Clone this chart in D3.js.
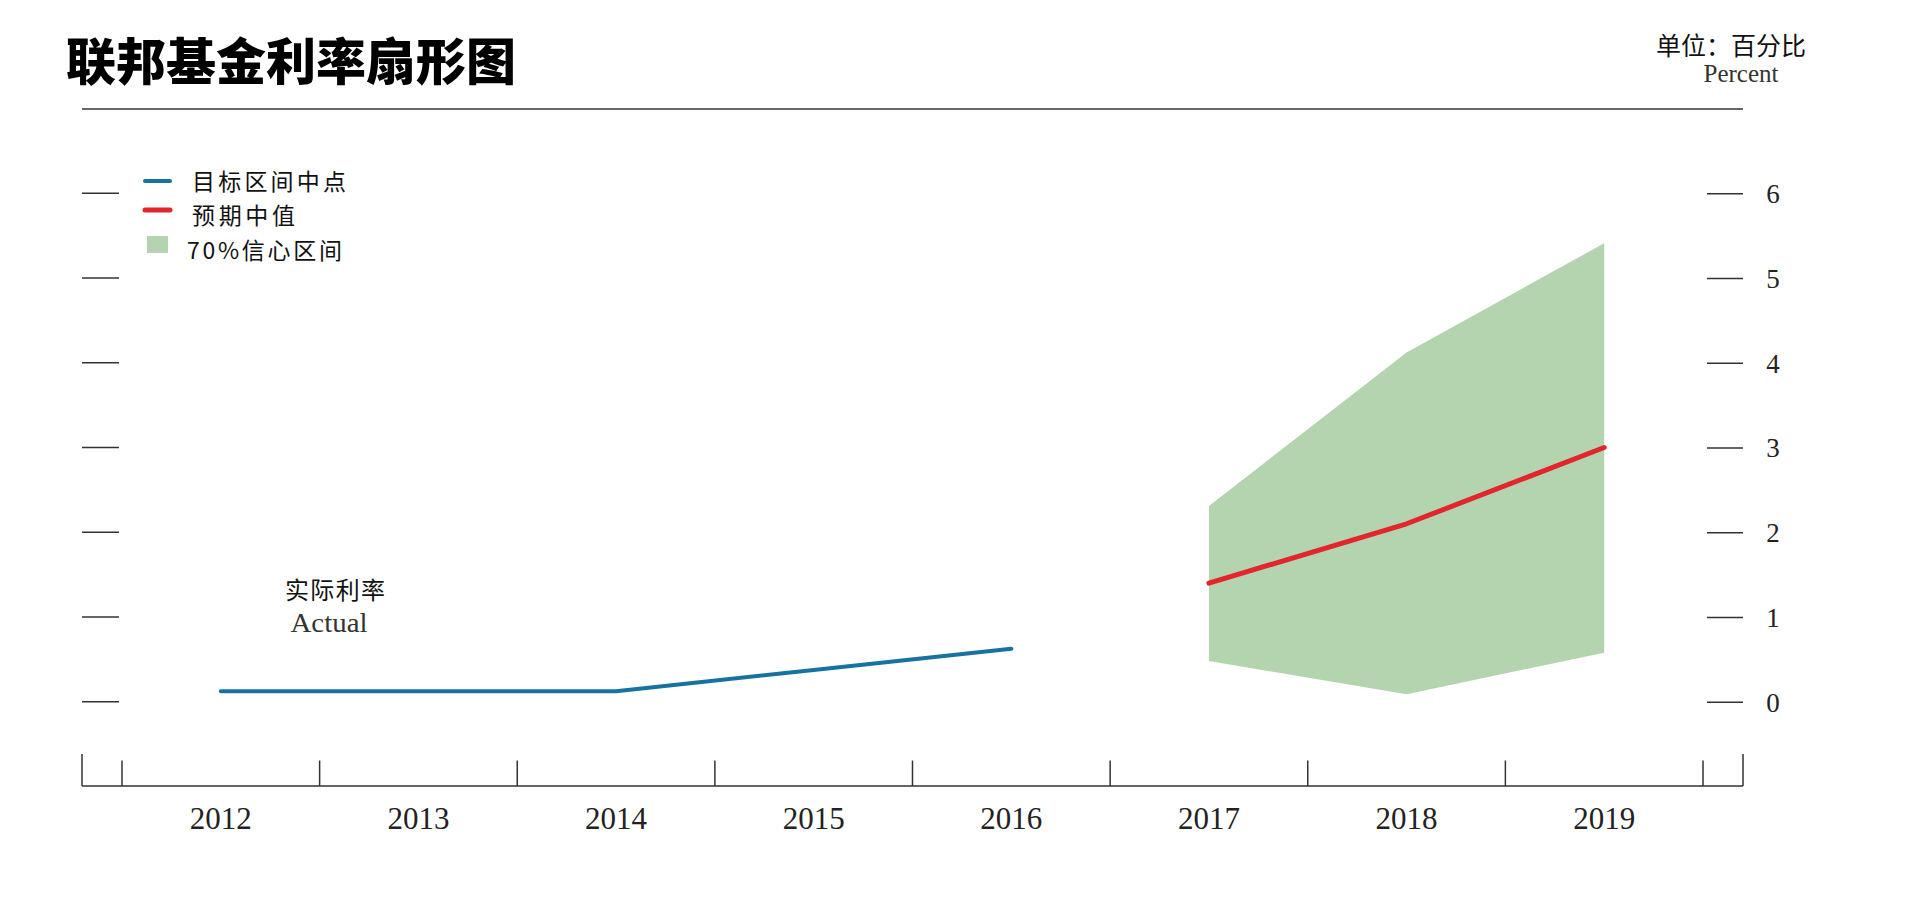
<!DOCTYPE html>
<html>
<head>
<meta charset="utf-8">
<script src="https://cdn.jsdelivr.net/npm/d3@7"></script>
<style>
  html, body { margin: 0; padding: 0; background: #fff; }
  svg { display: block; }
</style>
</head>
<body>
<svg id="chart" width="1917" height="898"></svg>
<script>
// ---- Data ----
const years = [2012, 2013, 2014, 2015, 2016, 2017, 2018, 2019];
const actualYears = [2012, 2013, 2014, 2015, 2016];
const actualValues = [0.125, 0.125, 0.125, 0.375, 0.625];
const projYears = [2017, 2018, 2019];
const medianValues = [1.4, 2.1, 3.0];
const lowerValues = [0.48, 0.09, 0.58];
const upperValues = [2.31, 4.12, 5.41];
const yTicks = [0, 1, 2, 3, 4, 5, 6];

const title = "联邦基金利率扇形图";
const unitCN = "单位：百分比";
const unitEN = "Percent";
const legendLabels = ["目标区间中点", "预期中值", "70%信心区间"];
const annotCN = "实际利率";
const annotEN = "Actual";

const colBlue = "#1572a1";
const colRed = "#e2262c";
const colGreen = "#b3d4af";
const colAxis = "#333333";

const cjk = "'Noto Sans CJK SC', 'Noto Sans', sans-serif";
const serif = "'Liberation Serif', 'DejaVu Serif', serif";

const svg = d3.select("#chart");

// ---- Scales ----
const axisLeft = 82, axisRight = 1743;
const x = d3.scaleBand().domain(years).range([axisLeft + 40, axisRight - 40]).padding(0);
const xc = d => x(d) + x.bandwidth() / 2;
const y = d3.scaleLinear().domain([0, 6]).range([701.8, 193.2]);

// ---- Title ----
svg.append("text")
  .attr("x", 66).attr("y", 58)
  .attr("dominant-baseline", "central")
  .attr("font-family", cjk).attr("font-weight", 900)
  .attr("font-size", 50).attr("fill", "#000")
  .text(title);

svg.append("line")
  .attr("x1", axisLeft).attr("x2", axisRight)
  .attr("y1", 109).attr("y2", 109)
  .attr("stroke", colAxis).attr("stroke-width", 1.5);

svg.append("text")
  .attr("x", 1731).attr("y", 44)
  .attr("text-anchor", "middle").attr("dominant-baseline", "central")
  .attr("font-family", cjk).attr("font-size", 25).attr("fill", "#111")
  .text(unitCN);
svg.append("text")
  .attr("x", 1741).attr("y", 73)
  .attr("text-anchor", "middle").attr("dominant-baseline", "central")
  .attr("font-family", serif).attr("font-size", 25).attr("fill", "#333")
  .text(unitEN);

// ---- Y ticks (both sides) ----
const gy = svg.append("g");
gy.selectAll("line.l").data(yTicks).join("line")
  .attr("x1", 82).attr("x2", 119)
  .attr("y1", d => y(d)).attr("y2", d => y(d))
  .attr("stroke", colAxis).attr("stroke-width", 1.5);

const yAxisR = d3.axisRight(y).tickValues(yTicks).tickSize(0).tickPadding(0).tickFormat(d3.format("d"));
const gR = svg.append("g").attr("transform", "translate(1707,0)").call(yAxisR);
gR.select(".domain").remove();
gR.selectAll(".tick line").attr("x2", 36).attr("stroke", colAxis).attr("stroke-width", 1.5);
gR.selectAll(".tick text")
  .attr("x", 66).attr("text-anchor", "middle").attr("dy", "0.35em")
  .attr("font-family", serif).attr("font-size", 27).attr("fill", "#222");

// ---- X axis ----
const xBase = 786;
const gx = svg.append("g");
gx.append("line")
  .attr("x1", axisLeft).attr("x2", axisRight)
  .attr("y1", xBase).attr("y2", xBase)
  .attr("stroke", colAxis).attr("stroke-width", 1.5);
[axisLeft, axisRight].forEach(px => {
  gx.append("line").attr("x1", px).attr("x2", px)
    .attr("y1", 754).attr("y2", xBase)
    .attr("stroke", colAxis).attr("stroke-width", 1.5);
});
const edges = years.map(d => x(d)).concat([x(years[years.length - 1]) + x.bandwidth()]);
gx.selectAll("line.edge").data(edges).join("line")
  .attr("x1", d => d).attr("x2", d => d)
  .attr("y1", 760.5).attr("y2", xBase)
  .attr("stroke", colAxis).attr("stroke-width", 1.5);
gx.selectAll("text.yr").data(years).join("text")
  .attr("x", d => xc(d)).attr("y", 818)
  .attr("text-anchor", "middle").attr("dominant-baseline", "central")
  .attr("font-family", serif).attr("font-size", 31).attr("fill", "#222")
  .text(d => d);

// ---- Fan area ----
const projData = projYears.map((yr, i) => ({ yr, lo: lowerValues[i], hi: upperValues[i], med: medianValues[i] }));
const area = d3.area()
  .x(d => xc(d.yr))
  .y0(d => y(d.lo))
  .y1(d => y(d.hi))
  .curve(d3.curveLinear);
svg.append("path").datum(projData)
  .attr("d", area).attr("fill", colGreen);

// ---- Median line ----
const medLine = d3.line().x(d => xc(d.yr)).y(d => y(d.med));
svg.append("path").datum(projData)
  .attr("d", medLine).attr("fill", "none")
  .attr("stroke", colRed).attr("stroke-width", 5)
  .attr("stroke-linecap", "round").attr("stroke-linejoin", "round");

// ---- Actual line ----
const actData = actualYears.map((yr, i) => ({ yr, v: actualValues[i] }));
const actLine = d3.line().x(d => xc(d.yr)).y(d => y(d.v));
svg.append("path").datum(actData)
  .attr("d", actLine).attr("fill", "none")
  .attr("stroke", colBlue).attr("stroke-width", 4)
  .attr("stroke-linecap", "round").attr("stroke-linejoin", "round");

// ---- Annotation ----
svg.append("text")
  .attr("x", 335).attr("y", 588)
  .attr("text-anchor", "middle").attr("dominant-baseline", "central")
  .attr("font-family", cjk).attr("font-size", 24).attr("fill", "#111")
  .attr("textLength", 100).attr("lengthAdjust", "spacing")
  .text(annotCN);
svg.append("text")
  .attr("x", 329).attr("y", 623)
  .attr("text-anchor", "middle").attr("dominant-baseline", "central")
  .attr("font-family", serif).attr("font-size", 27).attr("fill", "#333")
  .attr("textLength", 77).attr("lengthAdjust", "spacingAndGlyphs")
  .text(annotEN);

// ---- Legend ----
const lg = svg.append("g");
lg.append("line").attr("x1", 145).attr("x2", 170).attr("y1", 181).attr("y2", 181)
  .attr("stroke", colBlue).attr("stroke-width", 4).attr("stroke-linecap", "round");
lg.append("line").attr("x1", 145).attr("x2", 170).attr("y1", 210).attr("y2", 210)
  .attr("stroke", colRed).attr("stroke-width", 5).attr("stroke-linecap", "round");
lg.append("rect").attr("x", 147).attr("y", 236).attr("width", 21).attr("height", 17)
  .attr("fill", colGreen);
const legendY = [180, 214, 249];
const legendX = [192, 192, 187];
const legendW = [154, 103, 155];
lg.selectAll("text").data(legendLabels).join("text")
  .attr("x", (d, i) => legendX[i]).attr("y", (d, i) => legendY[i])
  .attr("dominant-baseline", "central")
  .attr("font-family", cjk).attr("font-size", 23).attr("fill", "#111")
  .attr("textLength", (d, i) => legendW[i]).attr("lengthAdjust", "spacing")
  .text(d => d);
</script>
</body>
</html>
